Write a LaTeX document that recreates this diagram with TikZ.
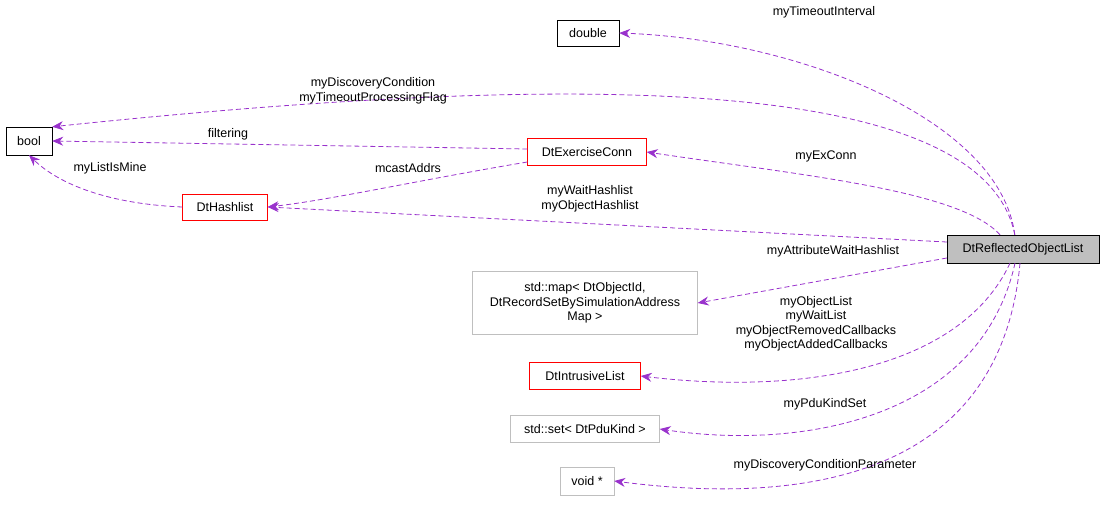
\documentclass[tikz,border=0pt]{standalone}
\usepackage{fontspec}
\setmainfont{Liberation Sans}
\usetikzlibrary{arrows.meta}
\definecolor{edgepurple}{RGB}{153,50,204}
\definecolor{boxgray}{RGB}{191,191,191}
\tikzset{
  cls/.style={draw=black, inner sep=0pt, font=\fontsize{12.5}{14.5}\selectfont},
  redcls/.style={cls, draw=red},
  graycls/.style={cls, draw=boxgray},
  use/.style={draw=edgepurple, line width=0.8pt, dash pattern=on 5pt off 3pt,
    -{Stealth[length=11pt,width=9pt]}},
  lbl/.style={font=\fontsize{12.5}{14.5}\selectfont, align=center}
}
\begin{document}
\begin{tikzpicture}[x=1pt,y=-1pt]
\useasboundingbox (0,0) rectangle (1104,519);

% classes
\node[cls, minimum width=62pt, minimum height=26pt] (double) at (588,33) {double};
\node[cls, minimum width=46pt, minimum height=28pt] (bool) at (29,141) {bool};
\node[redcls, minimum width=119pt, minimum height=27pt] (exconn) at (587,152) {DtExerciseConn};
\node[redcls, minimum width=85pt, minimum height=26pt] (hashlist) at (225,207) {DtHashlist};
\node[cls, fill=boxgray, minimum width=152pt, minimum height=28pt] (refl) at (1023,249) {DtReflectedObjectList};
\node[graycls, minimum width=225pt, minimum height=63pt, align=center] (map) at (585,303)
  {std::map\textless{} DtObjectId,\\DtRecordSetBySimulationAddress\\Map \textgreater};
\node[redcls, minimum width=111pt, minimum height=27pt] (intrusive) at (585,376) {DtIntrusiveList};
\node[graycls, minimum width=149pt, minimum height=27pt] (set) at (585,429) {std::set\textless{} DtPduKind \textgreater};
\node[graycls, minimum width=54pt, minimum height=28pt] (void) at (587,481) {void *};

% connectors
\draw[use] (refl.north west) ++(68,0) coordinate (r1)
  (r1) .. controls (1000,120) and (800,40) .. (double.east);
\draw[use] (r1) .. controls (980,60) and (500,80) .. (bool.north east);
\draw[use] (exconn.west) ++(0,-3) coordinate (e1) (e1) -- (bool.east);
\draw[use] (hashlist.west) .. controls (110,204) and (60,185) .. (bool.south);
\draw[use] (exconn.west) ++(0,10) coordinate (e2) (e2) .. controls (420,180) and (330,200) .. (hashlist.east);
\draw[use] (refl.north) ++(-23,0) coordinate (r2)
  (r2) .. controls (960,190) and (800,175) .. (exconn.east);
\draw[use] (refl.west) ++(0,-7) coordinate (r3) (r3) -- (hashlist.east);
\draw[use] (refl.west) ++(0,9) coordinate (r4) (r4) -- (map.east);
\draw[use] (refl.south) ++(-13,0) coordinate (r5)
  (r5) .. controls (960,370) and (800,395) .. (intrusive.east);
\draw[use] (refl.south) ++(-8,0) coordinate (r6)
  (r6) .. controls (980,420) and (800,450) .. (set.east);
\draw[use] (refl.south) ++(-3,0) coordinate (r7)
  (r7) .. controls (1000,480) and (800,505) .. (void.east);

% labels
\node[lbl] (l1) at (824,12) {myTimeoutInterval};
\node[lbl] (l2) at (373,91) {myDiscoveryCondition\\myTimeoutProcessingFlag};
\node[lbl] (l3) at (228,134) {filtering};
\node[lbl] (l4) at (110,168) {myListIsMine};
\node[lbl] (l5) at (408,168) {mcastAddrs};
\node[lbl] (l6) at (826,156) {myExConn};
\node[lbl] (l7) at (590,199) {myWaitHashlist\\myObjectHashlist};
\node[lbl] (l8) at (833,251) {myAttributeWaitHashlist};
\node[lbl] (l9) at (816,324) {myObjectList\\myWaitList\\myObjectRemovedCallbacks\\myObjectAddedCallbacks};
\node[lbl] (l10) at (825,404) {myPduKindSet};
\node[lbl] (l11) at (825,465) {myDiscoveryConditionParameter};
\end{tikzpicture}
\end{document}
